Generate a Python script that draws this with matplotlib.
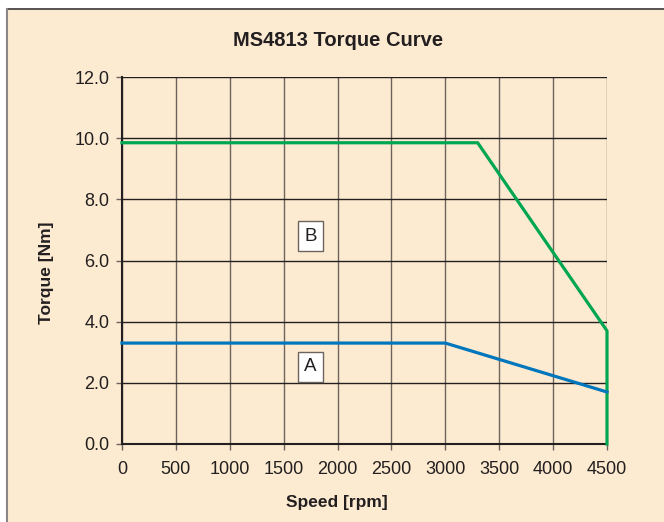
import matplotlib.pyplot as plt
from matplotlib.patches import Rectangle

plt.rcParams['font.family'] = ['Liberation Sans', 'DejaVu Sans']

# curve data
speed_b = [0, 3300, 4500, 4500]
torque_b = [9.85, 9.85, 3.7, 0.0]
speed_a = [0, 3000, 4500]
torque_a = [3.3, 3.3, 1.7]
x_ticks = [0, 500, 1000, 1500, 2000, 2500, 3000, 3500, 4000, 4500]
y_ticks = [0.0, 2.0, 4.0, 6.0, 8.0, 10.0, 12.0]

bg = '#fdebd1'
ink = '#231f20'

fig = plt.figure(figsize=(6.64, 5.22), dpi=100, facecolor='white')
# beige panel with thin border
fig.patches.append(Rectangle((7/664, 0), 1, 1 - 9/522, transform=fig.transFigure,
                             facecolor=bg, edgecolor='none', zorder=-2))
fig.add_artist(plt.Line2D([7/664, 1], [1 - 9/522, 1 - 9/522], transform=fig.transFigure,
                          color='#3a3535', lw=1.2, zorder=-1))
fig.add_artist(plt.Line2D([7/664, 7/664], [0, 1 - 9/522], transform=fig.transFigure,
                          color='#8a8585', lw=1.5, zorder=-1))

ax = fig.add_axes([122/664, 78/522, 485/664, 367/522])
ax.set_facecolor(bg)

ax.plot(speed_b, torque_b, color='#00a651', lw=2.3, zorder=3, clip_on=False)
ax.plot(speed_a, torque_a, color='#0076bd', lw=2.3, zorder=3, clip_on=False)

ax.set_xlim(0, 4500)
ax.set_ylim(0, 12)
ax.set_xticks(x_ticks)
ax.set_yticks(y_ticks)
ax.set_yticklabels(['%.1f' % v for v in y_ticks])

ax.xaxis.grid(True, color='#6e645e', lw=1.0)
ax.yaxis.grid(True, color=ink, lw=1.0)
ax.set_axisbelow(True)

for s in ['top', 'right']:
    ax.spines[s].set_visible(False)
for s in ['left', 'bottom']:
    ax.spines[s].set_color(ink)
    ax.spines[s].set_linewidth(1.5)

ax.tick_params(axis='both', direction='out', length=4, width=1, color='#6e645e',
               labelsize=13, labelcolor=ink, pad=5)
ax.tick_params(axis='x', pad=8)

box = dict(boxstyle='square,pad=0.33', facecolor='white', edgecolor='#6e645e', lw=1)
ax.text(1750, 6.8, 'B', ha='center', va='center', fontsize=13.5, color=ink, bbox=box)
ax.text(1750, 2.52, 'A', ha='center', va='center', fontsize=13.5, color=ink, bbox=box)

fig.text(338/664, 1 - 41/522, 'MS4813 Torque Curve', ha='center', va='center',
         fontsize=14.5, fontweight='bold', color=ink)
fig.text(337/664, 1 - 503/522, 'Speed [rpm]', ha='center', va='center',
         fontsize=12.5, fontweight='bold', color=ink)
fig.text(47/664, 1 - 273/522, 'Torque [Nm]', ha='center', va='center', rotation=90,
         fontsize=12.5, fontweight='bold', color=ink)

fig.savefig('out.png', dpi=100, facecolor='white')
